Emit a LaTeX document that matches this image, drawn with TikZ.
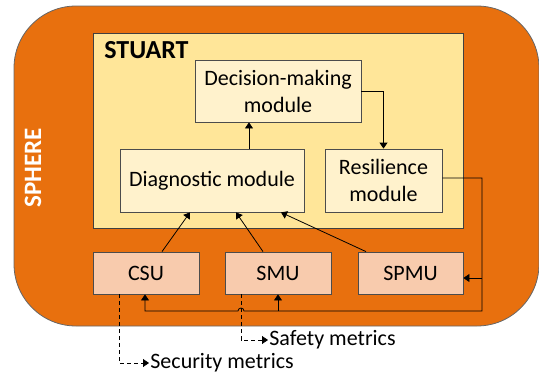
\documentclass[tikz,border=0pt]{standalone}
\usepackage{fontspec}
\setmainfont{Carlito}
\usetikzlibrary{arrows.meta}
\definecolor{sphereorange}{RGB}{232,112,14}
\definecolor{stuartfill}{RGB}{255,230,153}
\definecolor{modulefill}{RGB}{255,242,204}
\definecolor{unitfill}{RGB}{248,203,173}
\begin{document}
\begin{tikzpicture}[x=1pt,y=-1pt,line width=0.8pt,
    module/.style={draw=black!70,fill=modulefill,align=center,inner sep=0pt,font=\fontsize{22}{27}\selectfont},
    unit/.style={draw=black!70,fill=unitfill,inner sep=0pt,minimum width=106pt,minimum height=42pt,font=\fontsize{22}{27}\selectfont},
    arr/.style={-{Triangle[width=8pt,length=6pt]},black},
    dasharr/.style={arr,dash pattern=on 4pt off 3pt},
    metric/.style={anchor=west,inner sep=1pt,font=\fontsize{22}{27}\selectfont}]
    \useasboundingbox (0,0) rectangle (539,375);
    \node[draw=black!60,fill=sphereorange,rounded corners=62pt,minimum width=525pt,minimum height=320pt] (sphere) at (276.5,166) {};
    \node[rotate=90,text=white,font=\fontsize{25}{30}\selectfont\bfseries] (spherelbl) at (33,168) {SPHERE};
    \node[draw=black!75,fill=stuartfill,minimum width=370pt,minimum height=195pt] (stuart) at (278,130.5) {};
    \node[font=\fontsize{26}{31}\selectfont\bfseries,inner sep=0pt] (stuartlbl) at (146.5,50) {STUART};
    \node[module,minimum width=166pt,minimum height=62pt] (decision) at (278,91) {Decision-making\\module};
    \node[module,minimum width=184pt,minimum height=63pt] (diag) at (212,180.5) {Diagnostic module};
    \node[module,minimum width=117pt,minimum height=63pt] (resil) at (383.5,180.5) {Resilience\\module};
    \node[unit] (csu) at (146,273) {CSU};
    \node[unit] (smu) at (278,273) {SMU};
    \node[unit,minimum width=105pt] (spmu) at (410.5,273) {SPMU};
    \node[metric] (safety) at (268,340) {Safety metrics};
    \node[metric] (security) at (149,363) {Security metrics};
    \coordinate (fbtop) at (482,178);
    \coordinate (fbcorner) at (482,311);
    \draw[arr] ([xshift=37pt]diag.north) -- ([xshift=37pt]diag.north |- decision.south);
    \draw[arr] (decision.east) -| (resil.north);
    \draw[arr] ([xshift=16pt]csu.north) -- ([xshift=-22pt]diag.south);
    \draw[arr] ([xshift=-15pt]smu.north) -- ([xshift=24pt]diag.south);
    \draw[arr] ([xshift=-44.5pt]spmu.north) -- ([xshift=69pt]diag.south);
    \draw[arr] (resil.east |- fbtop) -- (fbtop) -- (fbcorner) -- (244,311)
        arc[start angle=0,end angle=-180,radius=3] -| ([xshift=-1pt]csu.south);
    \draw[arr] (fbcorner -| smu.south) -- (smu.south);
    \draw[arr] (fbtop |- spmu.east) ++(0,5) -- ([yshift=-5pt]spmu.east);
    \draw[dasharr] ([xshift=-27pt]csu.south) |- (security.west);
    \draw[dasharr] ([xshift=-37pt]smu.south) |- (safety.west);
\end{tikzpicture}
\end{document}
